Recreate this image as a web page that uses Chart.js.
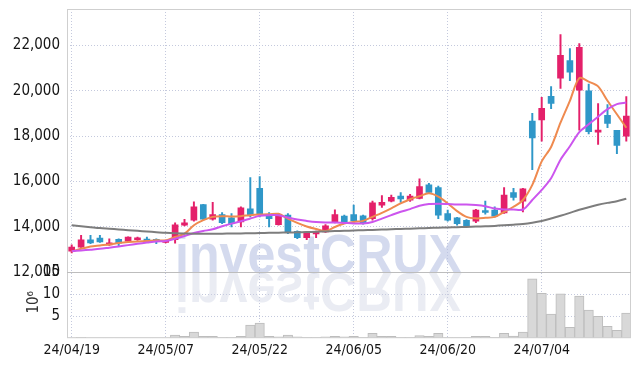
<!DOCTYPE html>
<html>
<head>
<meta charset="utf-8">
<script src="https://cdn.jsdelivr.net/npm/chart.js@4/dist/chart.umd.min.js"></script>
<style>
  html, body { margin: 0; padding: 0; background: #fff; }
  #wrap { width: 639px; height: 366px; }
</style>
</head>
<body>
<div id="wrap"><canvas id="c"></canvas></div>
<script>
"use strict";

// trading days, 2024
const dates = [
  "04/19","04/22","04/23","04/24","04/25","04/26","04/29","04/30","05/02","05/03",
  "05/07","05/08","05/09","05/10","05/13","05/14","05/16","05/17","05/20","05/21",
  "05/22","05/23","05/24","05/27","05/28","05/29","05/30","05/31","06/03","06/04",
  "06/05","06/07","06/10","06/11","06/12","06/13","06/14","06/17","06/18","06/19",
  "06/20","06/21","06/24","06/25","06/26","06/27","06/28","07/01","07/02","07/03",
  "07/04","07/05","07/08","07/09","07/10","07/11","07/12","07/15","07/16","07/17",
];

const openP = [
  12933,13111,13435,13511,13213,13460,13373,13435,13466,13408,
  13320,13435,14075,14297,14990,14340,14547,14400,14222,14800,
  15704,14518,14104,14518,13807,13525,13689,13778,14222,14474,
  14548,14489,14370,14963,15141,15363,15185,15260,15852,15733,
  14593,14400,14297,14252,14711,14740,14622,15511,15141,18667,
  18711,19748,20548,21333,20030,20000,18178,18920,18253,18000,
];
const highP = [
  13213,13630,13630,13630,13480,13480,13570,13555,13555,13480,
  13420,14178,14340,15111,15000,15082,14637,14593,14890,16178,
  16222,14637,14600,14593,13830,13790,13820,14104,14755,14520,
  14963,14520,15141,15378,15408,15511,15440,16119,15926,15800,
  14740,14420,14320,14780,15141,14889,15733,15704,15700,19007,
  19704,20178,22474,21852,22074,20296,19437,19391,18253,19746,
];
const lowP = [
  12858,13100,13259,13320,13185,13155,13360,13408,13330,13259,
  13300,13290,14040,14250,14300,14297,14148,14000,14000,14444,
  14444,14000,14080,13704,13480,13435,13525,13760,14180,14140,
  14200,14120,14297,14859,15100,15082,15120,15230,15480,14370,
  14250,14074,14000,14193,14563,14430,14593,15185,14667,16519,
  17778,19215,20104,20444,18267,18100,17630,18369,17231,17778,
];
const closeP = [
  13111,13435,13302,13340,13302,13284,13550,13511,13364,13364,
  13408,14089,14178,14889,14340,14547,14193,14148,14844,14518,
  14548,14370,14548,13778,13525,13778,13807,14044,14548,14193,
  14267,14148,15067,15082,15304,15230,15363,15778,15526,14518,
  14297,14148,14044,14740,14637,14474,15408,15304,15674,17926,
  19230,19437,21556,20815,21911,18193,18267,18564,17587,18889,
];

// moving averages
const ma5 = [
  12920,13036,13142,13187,13231,13289,13333,13364,13378,13409,
  13409,13556,13702,14076,14298,14444,14476,14458,14476,14520,
  14547,14564,14578,14369,14178,14022,13911,13822,14000,14155,
  14222,14267,14444,14622,14822,15035,15222,15355,15480,15333,
  15035,14698,14444,14378,14400,14444,14667,14889,15187,15853,
  16889,17524,18591,19556,20556,20400,20191,19556,18964,18369,
];
const ma20 = [
  12933,12964,13000,13036,13089,13142,13200,13258,13311,13364,
  13378,13480,13600,13733,13822,13898,14031,14147,14253,14369,
  14489,14520,14520,14413,14324,14267,14222,14200,14200,14178,
  14155,14155,14222,14369,14520,14667,14787,14933,15009,15022,
  15009,14991,14991,14964,14911,14813,14769,14769,14769,15187,
  15631,16147,16964,17556,18178,18520,18858,19187,19409,19480,
];
const ma60 = [
  14070,14030,13990,13950,13920,13890,13860,13830,13800,13770,
  13740,13720,13710,13705,13700,13700,13705,13710,13715,13720,
  13730,13740,13750,13755,13765,13775,13790,13805,13820,13830,
  13845,13860,13870,13885,13900,13910,13925,13940,13955,13965,
  13980,13990,14000,14015,14030,14045,14070,14100,14135,14190,
  14265,14370,14490,14620,14755,14870,14975,15060,15135,15240,
];

// volume, millions of shares
const volume = [
  0.1,0.2,0.1,0.1,0.1,0.1,0.1,0.1,0.1,0.1,
  0.1,0.7,0.45,1.4,0.45,0.4,0.2,0.2,0.45,3.0,
  3.45,0.45,0.3,0.7,0.3,0.2,0.2,0.3,0.45,0.3,
  0.4,0.2,1.1,0.4,0.4,0.2,0.2,0.6,0.4,1.1,
  0.15,0.15,0.15,0.4,0.4,0.2,1.1,0.5,1.4,13.5,
  10.2,5.5,10.1,2.5,9.6,6.4,5.0,2.7,1.8,5.7,
];

const priceTicks = [12000, 14000, 16000, 18000, 20000, 22000];
const volTicks = [5, 10, 15];
const volUnit = "10⁶";

const UP = "#e4206a";
const DOWN = "#2f97c8";
const GRID = "#c4c9dd";
const INK = "#141414";
const FONT = "'Liberation Sans Narrow', 'DejaVu Sans Condensed', sans-serif";
const AXIS_W = 61;

const candleColor = openP.map((o, i) => (closeP[i] >= o ? UP : DOWN));

// watermark, frame and the volume unit label
const decor = {
  id: "decor",
  beforeDatasetsDraw(chart) {
    const { ctx, chartArea } = chart;
    const text = "investCRUX";
    const x0 = chartArea.left + 108;
    const base = chart.scales.y.bottom + 1;
    ctx.save();
    ctx.font = "bold 56px 'Liberation Sans', sans-serif";
    const w = ctx.measureText(text).width;
    const sx = 287 / w;
    ctx.textBaseline = "alphabetic";
    // reflection
    ctx.save();
    ctx.translate(x0, base);
    ctx.scale(sx, -1);
    ctx.fillStyle = "rgba(205,210,226,0.42)";
    ctx.fillText(text, 0, 0);
    ctx.restore();
    ctx.translate(x0, base);
    ctx.scale(sx, 1);
    ctx.fillStyle = "rgba(186,196,228,0.62)";
    ctx.fillText(text, 0, 0);
    ctx.restore();
  },
  afterDraw(chart) {
    const { ctx, chartArea } = chart;
    const ySplit = chart.scales.y.bottom;
    const yv = chart.scales.yv;
    ctx.save();
    ctx.strokeStyle = "#cfcfcf";
    ctx.lineWidth = 1;
    ctx.strokeRect(chartArea.left + 0.5, chartArea.top + 0.5,
      chartArea.right - chartArea.left - 1, chartArea.bottom - chartArea.top - 1);
    ctx.strokeStyle = "#bdbdbd";
    ctx.beginPath();
    ctx.moveTo(chartArea.left, Math.round(ySplit) + 0.5);
    ctx.lineTo(chartArea.right, Math.round(ySplit) + 0.5);
    ctx.stroke();
    // unit label, rotated
    ctx.translate(chartArea.left - 33, (yv.top + yv.bottom) / 2 - 3);
    ctx.rotate(-Math.PI / 2);
    ctx.font = "15px " + FONT;
    ctx.fillStyle = "#333";
    ctx.textAlign = "center";
    ctx.textBaseline = "middle";
    ctx.fillText(volUnit, 0, 0);
    ctx.restore();
  },
};

const lineDs = (data, color, width) => ({
  type: "line",
  data,
  yAxisID: "y",
  borderColor: color,
  borderWidth: width,
  pointRadius: 0,
  tension: 0.3,
  order: 0,
});

const fixAxis = s => {
  s.width = AXIS_W;
  s.paddingTop = 0;
  s.paddingBottom = 0;
};

new Chart(document.getElementById("c"), {
  type: "bar",
  data: {
    labels: dates,
    datasets: [
      lineDs(ma60, "#7d7d7d", 2),
      lineDs(ma20, "#cc55ee", 2),
      lineDs(ma5, "#ef8a4f", 2),
      {
        // candle bodies
        data: openP.map((o, i) => [o, closeP[i]]),
        yAxisID: "y",
        backgroundColor: candleColor,
        borderColor: candleColor,
        borderWidth: 0,
        barThickness: 6,
        minBarLength: 2,
        grouped: false,
        order: 1,
      },
      {
        // wicks
        data: lowP.map((l, i) => [l, highP[i]]),
        yAxisID: "y",
        backgroundColor: candleColor,
        barThickness: 1.3,
        grouped: false,
        order: 2,
      },
      {
        data: volume,
        yAxisID: "yv",
        backgroundColor: "#d8d8d8",
        borderColor: "#bdbdbd",
        borderWidth: 1,
        barPercentage: 1,
        categoryPercentage: 1,
        grouped: false,
        order: 3,
      },
    ],
  },
  options: {
    responsive: true,
    maintainAspectRatio: false,
    animation: false,
    layout: { padding: { left: 6, right: 8, top: 9, bottom: 3 } },
    plugins: { legend: { display: false }, tooltip: { enabled: false } },
    scales: {
      x: {
        offset: true,
        grid: { offset: false, color: GRID, drawTicks: false },
        border: { display: false, dash: [1, 2] },
        ticks: {
          autoSkip: false,
          maxRotation: 0,
          padding: 4,
          color: INK,
          font: { family: FONT, size: 14 },
          callback: (v, i) => (i % 10 === 0 ? "24/" + dates[i] : null),
        },
      },
      y: {
        position: "left",
        stack: "left",
        stackWeight: 4,
        weight: 1,
        min: 12000,
        max: 23600,
        afterBuildTicks: s => { s.ticks = priceTicks.map(v => ({ value: v })); },
        afterFit: fixAxis,
        grid: { color: GRID, drawTicks: false },
        border: { display: false, dash: [1, 2] },
        ticks: {
          padding: 7,
          color: INK,
          font: { family: FONT, size: 15 },
          callback: v => v.toLocaleString("en-US"),
        },
      },
      yv: {
        position: "left",
        stack: "left",
        stackWeight: 1,
        weight: 0,
        min: 0,
        max: 15,
        afterBuildTicks: s => { s.ticks = volTicks.map(v => ({ value: v })); },
        afterFit: fixAxis,
        grid: { color: GRID, drawTicks: false },
        border: { display: false, dash: [1, 2] },
        ticks: {
          autoSkip: false,
          padding: 7,
          color: INK,
          font: { family: FONT, size: 15 },
        },
      },
    },
  },
  plugins: [decor],
});
</script>
</body>
</html>
